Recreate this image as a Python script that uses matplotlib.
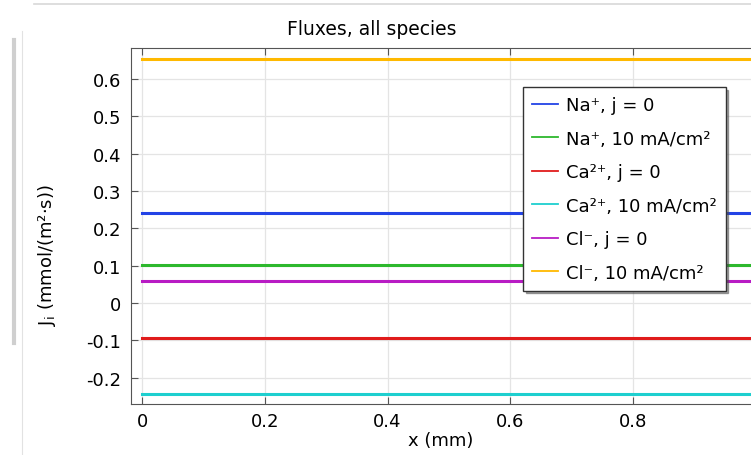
import numpy as np
import matplotlib.pyplot as plt
from matplotlib.lines import Line2D

# flux values (constant along x)
x = [0.0, 1.0]
labels = ["Na⁺, j = 0", "Na⁺, 10 mA/cm²",
          "Ca²⁺, j = 0", "Ca²⁺, 10 mA/cm²",
          "Cl⁻, j = 0", "Cl⁻, 10 mA/cm²"]
fluxes = [0.240, 0.103, -0.094, -0.243, 0.059, 0.653]
colors = ["#2343e6", "#2db82d", "#e01b1b", "#1ecfcf", "#b81cc4", "#ffb900"]
xticks = [0, 0.2, 0.4, 0.6, 0.8, 1.0]
xticklabels = ["0", "0.2", "0.4", "0.6", "0.8", "1"]
yticks = [-0.2, -0.1, 0, 0.1, 0.2, 0.3, 0.4, 0.5, 0.6]
yticklabels = ["-0.2", "-0.1", "0", "0.1", "0.2", "0.3", "0.4", "0.5", "0.6"]

plt.rcParams['font.family'] = ['DejaVu Sans']
plt.rcParams['mathtext.fontset'] = 'dejavusans'

fig = plt.figure(figsize=(7.51, 4.56), dpi=100)
ax = fig.add_axes([0.1744, 0.112, 0.847, 0.781])

for val, col, lab in zip(fluxes, colors, labels):
    ax.plot(x, [val, val], color=col, lw=2.2, label=lab)

ax.set_xlim(-0.018, 1.018)
ax.set_ylim(-0.27, 0.683)
ax.set_xticks(xticks)
ax.set_xticklabels(xticklabels)
ax.set_yticks(yticks)
ax.set_yticklabels(yticklabels)
ax.tick_params(direction='in', top=True, right=True, labelsize=13,
               length=5, color='#555555')
ax.tick_params(axis='y', pad=7)
ax.tick_params(axis='x', pad=6)
ax.grid(True, color='#e4e4e4', lw=0.9)
ax.set_axisbelow(True)
for s in ax.spines.values():
    s.set_color('#555555')

ax.set_title("Fluxes, all species", fontsize=13.5, pad=10, x=0.379)
ax.set_xlabel("x (mm)", fontsize=13)
ax.xaxis.set_label_coords(0.487, -0.075)
ax.set_ylabel("J$_{\\mathregular{i}}$ (mmol/(m²·s))", fontsize=13)
ax.yaxis.set_label_coords(-0.115, 0.42)

leg = ax.legend(loc='upper left', bbox_to_anchor=(0.697, 0.807),
                bbox_transform=fig.transFigure, fontsize=13,
                frameon=True, fancybox=False, shadow=True,
                handlelength=1.4, handletextpad=0.45, borderpad=0.5,
                labelspacing=0.86, borderaxespad=0)
leg.get_frame().set_edgecolor('#333333')
leg.get_frame().set_linewidth(1.0)
for h in leg.get_lines():
    h.set_linewidth(1.3)

# window chrome from the screenshot
fig.add_artist(Line2D([0.045, 1.0], [0.989, 0.989], color='#d8d8d8', lw=1.2))
fig.add_artist(Line2D([0.019, 0.019], [0.245, 0.91], color='#cfcfcf', lw=3))
fig.add_artist(Line2D([0.029, 0.029], [0.0, 0.93], color='#e2e2e2', lw=0.8))

fig.savefig("out.png", dpi=100)
